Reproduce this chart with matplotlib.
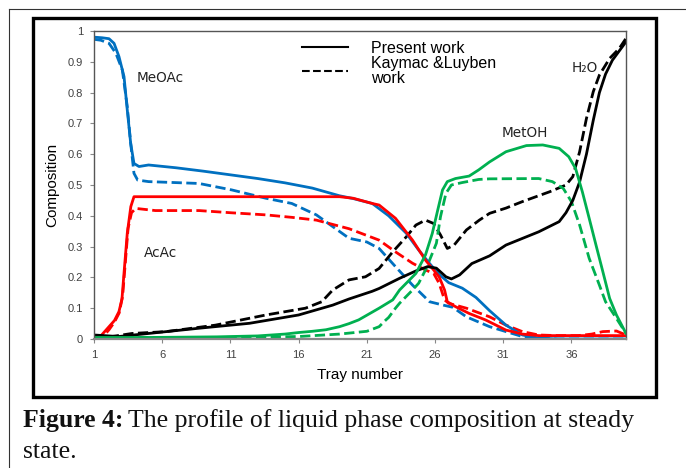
import matplotlib
matplotlib.use("Agg")
import matplotlib.pyplot as plt
from matplotlib.lines import Line2D
from matplotlib.patches import Rectangle

# tray positions / compositions
meoac_t = [1, 1.6, 2.1, 2.47, 2.83, 3.2, 3.44, 3.69, 3.93, 4.3, 5.0, 7, 9, 11, 13, 15, 17, 19,
           20, 21.4, 22.6, 23.9, 24.8, 25.6, 26.3, 27.0, 28.0, 29.0, 30.0, 31.2, 32.4, 33.6, 35, 40]
meoac_x = [0.98, 0.978, 0.975, 0.96, 0.917, 0.852, 0.743, 0.635, 0.57, 0.56, 0.565, 0.556, 0.545,
           0.533, 0.521, 0.507, 0.49, 0.465, 0.456, 0.44, 0.4, 0.343, 0.289, 0.245, 0.21, 0.183,
           0.165, 0.135, 0.092, 0.045, 0.013, 0.003, 0.0, 0.0]
meoac_kl_t = [1, 1.5, 2.1, 2.6, 3.08, 3.44, 3.69, 3.93, 4.2, 5.0, 8.7, 11.1, 13.6, 15.5, 17.3, 18.5,
              19.7, 21.0, 21.9, 23.1, 24.35, 25.6, 26.6, 27.3, 28.3, 30, 31.2, 32.4, 33.6, 35, 40]
meoac_kl_x = [0.973, 0.97, 0.96, 0.928, 0.873, 0.754, 0.635, 0.538, 0.516, 0.511, 0.505, 0.484,
              0.457, 0.44, 0.403, 0.365, 0.327, 0.315, 0.294, 0.235, 0.175, 0.121, 0.11, 0.103,
              0.072, 0.04, 0.024, 0.008, 0.003, 0.0, 0.0]

acac_t = [1, 1.5, 2.1, 2.5, 2.83, 3.05, 3.2, 3.44, 3.7, 3.93, 4.5, 8, 12, 16, 19, 20, 21.4, 21.9,
          23.1, 24.35, 25.3, 25.9, 26.3, 26.7, 26.9, 27.5, 28.5, 29.7, 31.2, 32.4, 33.6, 36, 40]
acac_x = [0.01, 0.01, 0.04, 0.06, 0.089, 0.13, 0.214, 0.344, 0.43, 0.462, 0.462, 0.462, 0.462,
          0.462, 0.462, 0.457, 0.44, 0.435, 0.392, 0.321, 0.256, 0.224, 0.202, 0.159, 0.121, 0.105,
          0.083, 0.062, 0.029, 0.016, 0.011, 0.011, 0.011]
acac_kl_t = [1, 1.6, 2.1, 2.5, 2.85, 3.1, 3.3, 3.5, 3.75, 4.06, 5.5, 8.7, 11, 13.6, 15.5, 17.3,
             18.5, 19.7, 21.9, 23.1, 24.35, 25.3, 25.9, 26.3, 26.7, 27.0, 28.3, 30, 31.2, 32.4,
             33.6, 35, 36.5, 37.5, 38.3, 39.3, 40]
acac_kl_x = [0.005, 0.005, 0.03, 0.055, 0.085, 0.14, 0.25, 0.36, 0.41, 0.424, 0.417, 0.417, 0.41,
             0.403, 0.395, 0.386, 0.372, 0.358, 0.321, 0.283, 0.246, 0.224, 0.213, 0.181, 0.127,
             0.116, 0.1, 0.072, 0.045, 0.024, 0.013, 0.011, 0.011, 0.016, 0.024, 0.026, 0.013]

meoh_t = [1, 5, 10, 13, 15, 16, 17, 18, 19, 19.7, 20.4, 21.9, 22.9, 23.4, 24.6, 25.3, 25.8, 26.2,
          26.55, 26.9, 27.5, 28.5, 29.2, 30, 31.2, 32.7, 33.9, 35.1, 35.8, 36.3, 36.8, 37.3, 37.8,
          38.3, 38.8, 39.3, 40]
meoh_x = [0.005, 0.005, 0.007, 0.01, 0.016, 0.021, 0.025, 0.03, 0.04, 0.05, 0.062, 0.1, 0.127,
          0.159, 0.213, 0.273, 0.343, 0.419, 0.484, 0.511, 0.521, 0.529, 0.549, 0.575, 0.608,
          0.628, 0.63, 0.619, 0.592, 0.554, 0.478, 0.392, 0.305, 0.219, 0.132, 0.078, 0.018]
meoh_kl_t = [1, 10, 16, 19, 21, 21.9, 22.4, 22.6, 23.1, 23.4, 24.35, 24.8, 25.3, 25.6, 26.1, 26.4,
             26.8, 27.2, 28.0, 29.2, 30, 33.6, 34.6, 35.4, 36.0, 36.6, 37.3, 38.05, 38.5, 39.3, 40]
meoh_kl_x = [0.005, 0.005, 0.008, 0.016, 0.025, 0.04, 0.062, 0.07, 0.1, 0.116, 0.159, 0.181,
             0.224, 0.256, 0.311, 0.397, 0.473, 0.5, 0.508, 0.518, 0.52, 0.521, 0.511, 0.489,
             0.446, 0.37, 0.262, 0.175, 0.121, 0.067, 0.018]

h2o_t = [1, 2.8, 5, 8.7, 12.4, 16, 18.5, 19.7, 21.4, 21.9, 23.4, 24.6, 25.45, 26.1, 26.8, 27.2,
         27.8, 28.7, 30, 31.2, 33.6, 35.1, 35.6, 36.1, 36.6, 37.1, 37.6, 38.05, 38.5, 39.0, 39.5, 40]
h2o_x = [0.013, 0.008, 0.018, 0.035, 0.051, 0.078, 0.11, 0.13, 0.155, 0.164, 0.197, 0.221, 0.235,
         0.23, 0.202, 0.195, 0.208, 0.245, 0.27, 0.305, 0.348, 0.381, 0.41, 0.45, 0.51, 0.6, 0.71,
         0.8, 0.86, 0.905, 0.935, 0.965]
h2o_kl_t = [1, 2.3, 3.8, 6.3, 9.9, 13.6, 16.5, 17.7, 18.5, 19.7, 20.9, 21.9, 22.9, 23.9, 24.6,
            25.3, 25.9, 26.4, 26.9, 27.4, 28.3, 29.25, 30, 31.2, 32.4, 34.4, 35.6, 36.1, 36.6,
            37.1, 37.6, 38.05, 38.8, 39.5, 40]
h2o_kl_x = [0.008, 0.008, 0.018, 0.024, 0.045, 0.078, 0.1, 0.121, 0.159, 0.192, 0.202, 0.229,
            0.283, 0.332, 0.37, 0.386, 0.375, 0.338, 0.294, 0.305, 0.354, 0.386, 0.408, 0.425,
            0.446, 0.478, 0.5, 0.527, 0.608, 0.716, 0.803, 0.857, 0.911, 0.943, 0.976]

x_ticks = [1, 6, 11, 16, 21, 26, 31, 36]
y_ticks = [0, 0.1, 0.2, 0.3, 0.4, 0.5, 0.6, 0.7, 0.8, 0.9, 1]
y_labels = ["0", "0.1", "0.2", "0.3", "0.4", "0.5", "0.6", "0.7", "0.8", "0.9", "1"]

BLUE, RED, GREEN = "#0070C0", "#FF0000", "#00B050"
W, H = 686, 468

fig = plt.figure(figsize=(W / 100, H / 100), dpi=100)
ax = fig.add_axes([94 / W, (H - 339) / H, (626 - 94) / W, (339 - 31) / H])

lw = 2.0
ax.plot(meoac_kl_t, meoac_kl_x, color=BLUE, lw=lw, ls="--")
ax.plot(acac_kl_t, acac_kl_x, color=RED, lw=lw, ls="--")
ax.plot(h2o_kl_t, h2o_kl_x, color="black", lw=lw, ls="--")
ax.plot(meoh_kl_t, meoh_kl_x, color=GREEN, lw=lw, ls="--")
ax.plot(meoac_t, meoac_x, color=BLUE, lw=lw)
ax.plot(acac_t, acac_x, color=RED, lw=lw)
ax.plot(h2o_t, h2o_x, color="black", lw=lw)
ax.plot(meoh_t, meoh_x, color=GREEN, lw=lw)

ax.set_xlim(1, 40)
ax.set_ylim(0, 1)
ax.set_xticks(x_ticks)
ax.set_xticklabels([str(t) for t in x_ticks], fontsize=8, color="#404040", family="Liberation Sans")
ax.set_yticks(y_ticks)
ax.set_yticklabels(y_labels, fontsize=8, color="#404040", family="Liberation Sans")
ax.tick_params(direction="out", length=3, width=0.8, color="#888888", pad=5)
for s in ax.spines.values():
    s.set_color("#555555")
    s.set_linewidth(1.0)
ax.spines["bottom"].set_color("#888888")
ax.spines["bottom"].set_linewidth(1.6)

ax.set_xlabel("Tray number", fontsize=11, family="Liberation Sans", labelpad=6)
ax.set_ylabel("Composition", fontsize=11, family="Liberation Sans", labelpad=6)

lab = dict(fontsize=9.8, color="#222222", va="center", ha="left")
ax.text(4.15, 0.848, "MeOAc", **lab)
ax.text(4.67, 0.279, "AcAc", **lab)
ax.text(30.86, 0.669, "MetOH", **lab)
ax.text(36.0, 0.88, "H₂O", **lab)

handles = [Line2D([], [], color="black", lw=1.5),
           Line2D([], [], color="black", lw=1.5, ls="--")]
leg = ax.legend(handles, ["Present work", "Kaymac &Luyben\nwork"], loc="upper left",
                bbox_to_anchor=(0.37, 1.005), frameon=False, handlelength=2.9, handletextpad=1.4,
                labelspacing=0.0, prop={"family": "Liberation Sans", "size": 11.5},
                borderpad=0.2)
for t in leg.get_texts():
    t.set_linespacing(1.0)

# frames around the chart
fig.add_artist(Line2D([8.5 / W, 8.5 / W], [0, (H - 9) / H], color="#333333", lw=0.8))
fig.add_artist(Line2D([8.5 / W, 1], [(H - 9) / H, (H - 9) / H], color="#333333", lw=0.8))
fig.add_artist(Rectangle((33 / W, (H - 397) / H), (656 - 33) / W, (397 - 18) / H,
                         fill=False, ec="black", lw=2.4, transform=fig.transFigure))

# caption
cap = dict(fontsize=18.5, family="Liberation Serif", va="baseline", ha="left", color="#111111")
t1 = fig.text(23 / W, (H - 427) / H, "Figure 4:", fontweight="bold", **cap)
r = fig.canvas.get_renderer()
bb = t1.get_window_extent(renderer=r)
fig.text(bb.x1 / W + 5 / W, (H - 427) / H, "The profile of liquid phase composition at steady", **cap)
fig.text(23 / W, (H - 458) / H, "state.", **cap)

fig.savefig("out.png", dpi=100)
